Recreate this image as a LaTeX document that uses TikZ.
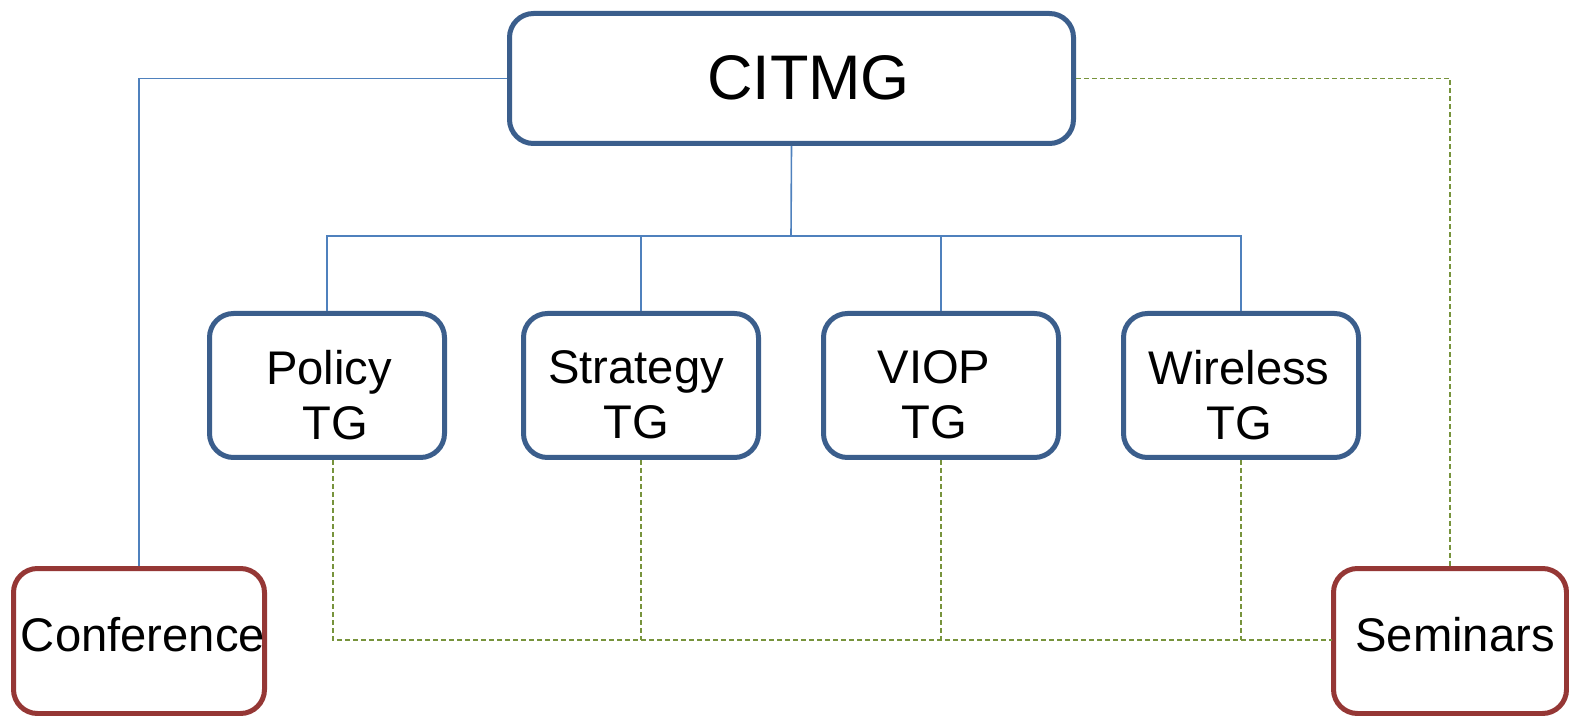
\documentclass[tikz,border=0pt]{standalone}
\usepackage{fontspec}
\setmainfont{Liberation Sans}
\definecolor{boxblue}{HTML}{3B5E8C}
\definecolor{boxred}{HTML}{953735}
\definecolor{lineblue}{HTML}{4F81BD}
\definecolor{linegreen}{HTML}{77933C}
\begin{document}
\begin{tikzpicture}[x=0.5pt,y=-0.5pt,
  bluebox/.style={draw=boxblue,line width=2.5pt,rounded corners=12pt,fill=white,inner sep=0pt},
  redbox/.style={draw=boxred,line width=2.5pt,rounded corners=12pt,fill=white,inner sep=0pt},
  tgbox/.style={bluebox,minimum width=117.5pt,minimum height=72pt},
  sidebox/.style={redbox,minimum height=72.5pt},
  lbl/.style={inner sep=0pt,align=center,font=\fontsize{23.6}{27.5}\selectfont},
  toplbl/.style={inner sep=0pt,font=\fontsize{31.5}{36}\selectfont},
  bline/.style={draw=lineblue,line width=0.8pt},
  gline/.style={draw=linegreen,line width=0.75pt,dash pattern=on 2.5pt off 1.5pt}]
\useasboundingbox (0,0) rectangle (1569,716);
% boxes
\node[bluebox,minimum width=282pt,minimum height=65pt] (citmg) at (791.5,78.5) {};
\node[tgbox] (policy) at (327,385.5) {};
\node[tgbox] (strategy) at (641,385.5) {};
\node[tgbox] (viop) at (941,385.5) {};
\node[tgbox] (wireless) at (1241,385.5) {};
\node[sidebox,minimum width=125.5pt] (conf) at (139,641) {};
\node[sidebox,minimum width=116.5pt] (sem) at (1450,641) {};
% texts
\node[toplbl] (citmgT) at (808.5,77.5) {CITMG};
\node[lbl] (policyT) at (329,395) {Policy\\ \hspace*{6pt}TG};
\node[lbl] (strategyT) at (636,395) {Strategy\\TG};
\node[lbl] (viopT) at (934,395) {VIOP\\TG};
\node[lbl] (wirelessT) at (1239,395) {Wireless\\TG};
\node[lbl] (confT) at (143,635) {Conference};
\node[lbl] (semT) at (1455,635) {Seminars};
% blue connectors
\coordinate (bus) at (791,236);
\draw[bline] (citmg.west) -| (conf.north);
\draw[bline] (citmg.south) -- (bus);
\draw[bline] (policy.north) |- (bus);
\draw[bline] (wireless.north) |- (bus);
\draw[bline] (strategy.north) -- (strategy.north |- bus);
\draw[bline] (viop.north) -- (viop.north |- bus);
% green connectors
\coordinate (gbus) at (941,640);
\draw[gline] (citmg.east) -| (sem.north);
\draw[gline] ([xshift=3pt]policy.south) |- (sem.west |- gbus) -- (sem.west);
\draw[gline] (strategy.south) -- (strategy.south |- gbus);
\draw[gline] (viop.south) -- (gbus);
\draw[gline] (wireless.south) -- (wireless.south |- gbus);
\end{tikzpicture}
\end{document}
